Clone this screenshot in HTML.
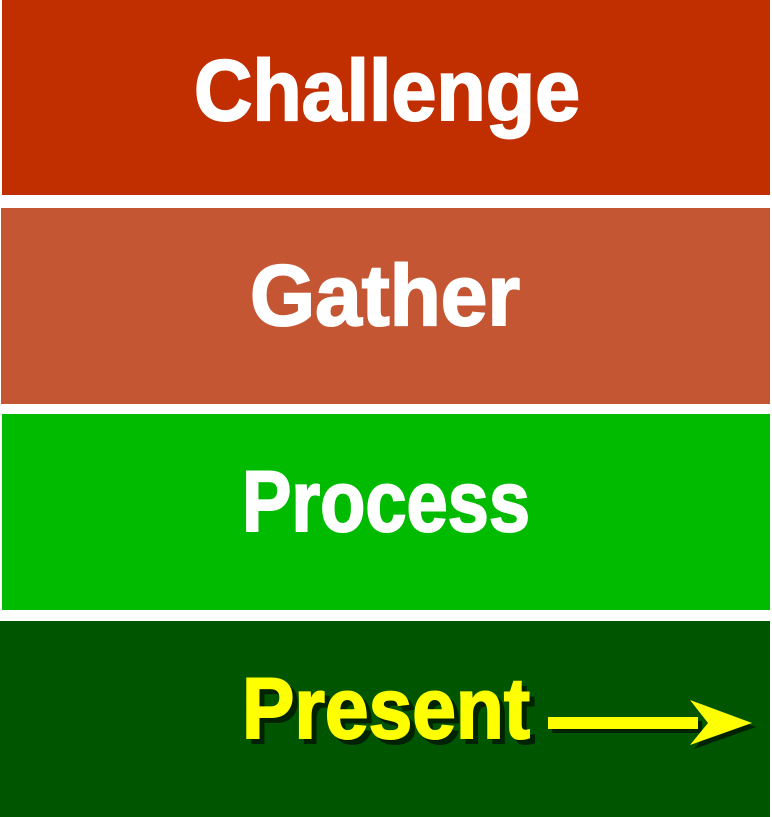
<!DOCTYPE html>
<html><head><style>html,body{margin:0;padding:0;background:#fff}</style></head>
<body>
<svg width="772" height="817" xmlns="http://www.w3.org/2000/svg" style="display:block">
<rect x="0" y="0" width="772" height="817" fill="#fff"/>
<rect x="2" y="0" width="768" height="195" fill="#c12e00"/>
<rect x="1" y="208" width="769" height="196" fill="#c55634"/>
<rect x="2" y="414" width="768" height="196" fill="#00bb00"/>
<rect x="0" y="621" width="770" height="196" fill="#005500"/>
<g font-family="Liberation Sans, sans-serif" font-weight="bold" font-size="86" fill="#fff" stroke-width="2">
<text x="194" y="120" stroke="#fff" textLength="386" lengthAdjust="spacingAndGlyphs">Challenge</text>
<text x="250" y="325" stroke="#fff" textLength="270" lengthAdjust="spacingAndGlyphs">Gather</text>
<text x="242" y="531" stroke="#fff" textLength="288" lengthAdjust="spacingAndGlyphs">Process</text>
<text x="247" y="743" fill="#002200" stroke="#002200" textLength="288" lengthAdjust="spacingAndGlyphs">Present</text>
<text x="242" y="738" fill="#ffff00" stroke="#ffff00" textLength="288" lengthAdjust="spacingAndGlyphs">Present</text>
</g>
<g fill="#002200" transform="translate(4,4)">
<rect x="548" y="717" width="150" height="12"/>
<polygon points="690,700 752,723 690,745 708,723"/>
</g>
<g fill="#ffff00">
<rect x="548" y="717" width="150" height="12"/>
<polygon points="690,700 752,723 690,745 708,723"/>
</g>
</svg>
</body></html>
